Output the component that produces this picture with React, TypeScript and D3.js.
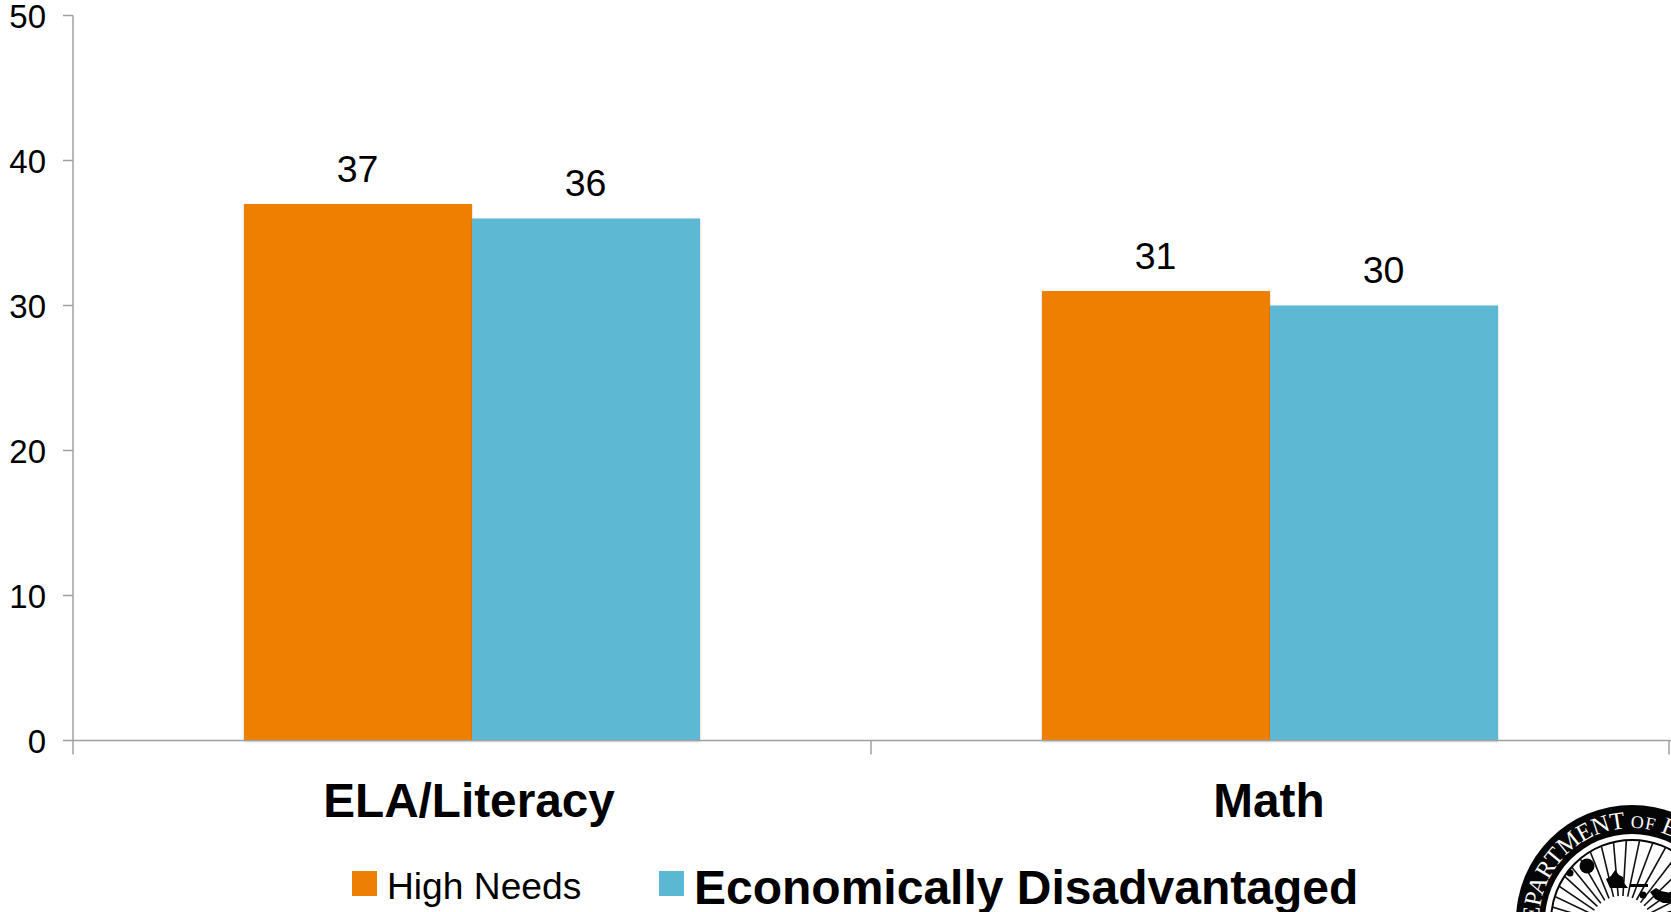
import React from "react";
import * as d3 from "d3";

const W = 1671;
const H = 912;

const categories = ["ELA/Literacy", "Math"];
const categoryLabelShift = [-3, -1];
const seriesNames = ["High Needs", "Economically Disadvantaged"];
const seriesColors = ["#EE7F05", "#5BB8D3"];
const highNeeds = [37, 31];
const economicallyDisadvantaged = [36, 30];
const yTicks = [0, 10, 20, 30, 40, 50];

const AXIS = "#A0A0A0";
const FONT = "'Liberation Sans', Arial, sans-serif";

// Agency seal, cut off by the lower right corner of the page
function Seal() {
  const cx = 1632;
  const cy = 921;
  const r = 116;
  const sunX = 1621;
  const sunY = 928;
  const rays = d3.range(-180, 0.1, 8.5);
  const toXY = (deg: number, rad: number) => [
    sunX + rad * Math.cos((deg * Math.PI) / 180),
    sunY + rad * Math.sin((deg * Math.PI) / 180),
  ];
  const tr = 93;
  const textArc = `M ${cx} ${cy + tr} A ${tr} ${tr} 0 1 1 ${cx} ${cy - tr} A ${tr} ${tr} 0 1 1 ${cx} ${cy + tr}`;
  return (
    <g>
      <circle cx={cx} cy={cy} r={r} fill="#050505" />
      <circle cx={cx} cy={cy} r={r - 29} fill="#fff" />
      <circle cx={cx} cy={cy} r={r - 35} fill="none" stroke="#050505" strokeWidth={2} />
      <defs>
        <clipPath id="seal-rays">
          <circle cx={cx} cy={cy} r={r - 35} />
        </clipPath>
        <path id="seal-text-arc" d={textArc} />
      </defs>
      <g clipPath="url(#seal-rays)">
        {rays.map((a) => {
          const [x1, y1] = toXY(a, 32);
          const [x2, y2] = toXY(a, 120);
          return <line key={a} x1={x1} y1={y1} x2={x2} y2={y2} stroke="#111" strokeWidth={1.6} />;
        })}
      </g>
      <circle cx={1587} cy={866} r={7.5} fill="#050505" />
      <circle cx={1570} cy={873} r={3.5} fill="#050505" />
      <path d="M1606 879 l5 -3 l4 -6 l4 5 l4 2 l1 6 l4 5 l-18 0 Z" fill="#050505" />
      <rect x={1630} y={884} width={18} height={3} fill="#050505" />
      <circle cx={1643} cy={895} r={3.5} fill="#050505" />
      <path d="M1650 892 l6 -4 l5 3 l10 2 l0 10 l-8 0 l-8 -4 Z" fill="#050505" />
      <text fontFamily="'Liberation Serif', serif" fontSize={24.5} fill="#fff" letterSpacing={-0.4}>
        <textPath href="#seal-text-arc" startOffset="128">
          DEPARTMENT <tspan fontSize={18} letterSpacing={0.5}>OF</tspan> EDUCATION
        </textPath>
      </text>
    </g>
  );
}

export default function App() {
  const x = d3.scaleBand<string>().domain(categories).range([73, 1669]);
  const inner = d3
    .scaleBand<string>()
    .domain(seriesNames)
    .range([0, x.bandwidth()])
    .paddingOuter(0.75)
    .paddingInner(0);
  const y = d3.scaleLinear().domain([0, 50]).range([740.5, 15.5]);
  const values = [highNeeds, economicallyDisadvantaged];
  const tickXs = [...categories.map((c) => x(c) as number), 1669];

  return (
    <svg
      width={W}
      height={H}
      viewBox={`0 0 ${W} ${H}`}
      style={{ position: "absolute", left: 0, top: 0, background: "#fff" }}
      fontFamily={FONT}
    >
      <defs>
        <filter id="bar-shadow" x="-5%" y="-5%" width="110%" height="110%">
          <feDropShadow dx={0} dy={1} stdDeviation={1.2} floodColor="#000" floodOpacity={0.25} />
        </filter>
      </defs>

      {seriesNames.map((s, si) =>
        categories.map((c, ci) => (
          <rect
            key={s + c}
            x={(x(c) as number) + (inner(s) as number)}
            y={y(values[si][ci])}
            width={inner.bandwidth()}
            height={y(0) - y(values[si][ci])}
            fill={seriesColors[si]}
            filter="url(#bar-shadow)"
          />
        ))
      )}

      {/* Value axis */}
      <line x1={73} x2={73} y1={y(50)} y2={y(0)} stroke={AXIS} strokeWidth={1.5} />
      {yTicks.map((t) => (
        <g key={t}>
          <line x1={63} x2={73} y1={y(t)} y2={y(t)} stroke={AXIS} strokeWidth={1.5} />
          <text x={46} y={y(t) + 12} fontSize={33} textAnchor="end" fill="#000">
            {t}
          </text>
        </g>
      ))}

      {/* Category axis */}
      <line x1={73} x2={W} y1={y(0)} y2={y(0)} stroke={AXIS} strokeWidth={1.5} />
      {tickXs.map((tx) => (
        <line key={tx} x1={tx} x2={tx} y1={y(0)} y2={y(0) + 14} stroke={AXIS} strokeWidth={1.5} />
      ))}
      {categories.map((c, i) => (
        <text
          key={c}
          x={(x(c) as number) + x.bandwidth() / 2 + categoryLabelShift[i]}
          y={817}
          fontSize={47.7}
          fontWeight="bold"
          textAnchor="middle"
          fill="#000"
        >
          {c}
        </text>
      ))}

      {/* Value labels above each bar */}
      {seriesNames.map((s, si) =>
        categories.map((c, ci) => (
          <text
            key={s + c}
            x={(x(c) as number) + (inner(s) as number) + inner.bandwidth() / 2 - 0.5}
            y={y(values[si][ci]) - 22.5}
            fontSize={37.5}
            textAnchor="middle"
            fill="#000"
          >
            {values[si][ci]}
          </text>
        ))
      )}

      {/* Legend */}
      <rect x={352} y={871} width={25} height={25} fill={seriesColors[0]} />
      <text x={387} y={899} fontSize={37.2} fill="#000">
        {seriesNames[0]}
      </text>
      <rect x={659} y={871} width={25} height={25} fill={seriesColors[1]} />
      <text x={694} y={904} fontSize={48} fontWeight="bold" fill="#000">
        {seriesNames[1]}
      </text>

      <Seal />
    </svg>
  );
}
